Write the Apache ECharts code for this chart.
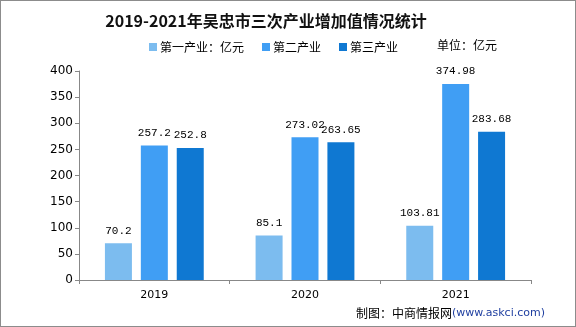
<!DOCTYPE html>
<html><head><meta charset="utf-8">
<script src="https://cdn.jsdelivr.net/npm/echarts@6/dist/echarts.min.js"></script>
<style>html,body{margin:0;padding:0;background:#fff}#c{width:576px;height:327px;box-sizing:border-box;border:1px solid #8c8c8c}</style>
</head><body><div id="c"></div>
<script>
const categories = ['2019', '2020', '2021'];
const primary = [70.2, 85.1, 103.81];
const secondary = [257.2, 273.02, 374.98];
const tertiary = [252.8, 263.65, 283.68];
const yTicks = [0, 50, 100, 150, 200, 250, 300, 350, 400];

const chart = echarts.init(document.getElementById('c'));
const font = '"Noto Sans CJK SC", "DejaVu Sans", sans-serif';
const lbl = {show: true, position: 'top', color: '#000', fontSize: 11, fontFamily: '"Liberation Mono", monospace', distance: 7};
chart.setOption({
  animation: false,
  title: {text: '2019-2021年吴忠市三次产业增加值情况统计', left: 260, top: 7, textAlign: 'center',
    textStyle: {fontSize: 16, fontWeight: 'bold', color: '#111', fontFamily: font}},
  legend: {left: 143, top: 35, itemWidth: 8, itemHeight: 8, itemGap: 18, icon: 'rect',
    textStyle: {fontSize: 12, color: '#000', fontFamily: font, padding: [0,0,0,-2]}},
  graphic: [
    {type: 'text', left: 436, top: 38, style: {text: '单位：亿元', fontSize: 12, fill: '#000', fontFamily: font}},
    {type: 'text', right: 30, top: 306, style: {rich: {a: {fontSize: 12, fill: '#000', fontFamily: font}, b: {fontSize: 11, fill: '#1f3fa0', fontFamily: '"DejaVu Sans", sans-serif'}}, text: '{a|制图：中商情报网}{b|(www.askci.com)}'}}
  ],
  grid: {left: 78, right: 44, top: 70, bottom: 46},
  xAxis: {type: 'category', data: categories,
    axisLine: {lineStyle: {color: '#888'}}, axisTick: {show: true, length: 4, lineStyle: {color: '#888'}},
    axisLabel: {color: '#000', fontSize: 11, margin: 10, fontFamily: '"DejaVu Sans", sans-serif'}},
  yAxis: {type: 'value', min: yTicks[0], max: yTicks[yTicks.length-1], interval: 50,
    axisLine: {show: true, lineStyle: {color: '#888'}}, axisTick: {show: true, length: 4, lineStyle: {color: '#888'}},
    splitLine: {show: false},
    axisLabel: {color: '#000', fontSize: 12, margin: 6, fontFamily: '"DejaVu Sans", sans-serif'}},
  series: [
    {name: '第一产业：亿元', type: 'bar', data: primary, barWidth: 27, barGap: '33%', itemStyle: {color: '#7cbcef'}, label: lbl},
    {name: '第二产业', type: 'bar', data: secondary, barWidth: 27, barGap: '33%', itemStyle: {color: '#409ef4'}, label: lbl},
    {name: '第三产业', type: 'bar', data: tertiary, barWidth: 27, barGap: '33%', itemStyle: {color: '#0f78d2'}, label: lbl}
  ]
});
</script></body></html>
